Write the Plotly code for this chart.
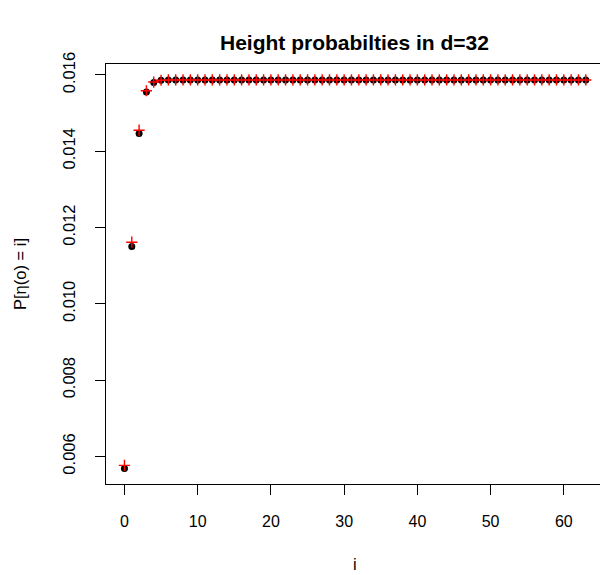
import plotly.graph_objects as go

# ---- data ----
idx = list(range(64))
black_vals = [0.005686, 0.011501, 0.014467, 0.015555, 0.015801, 0.015860,
              0.01587, 0.01587, 0.01587, 0.01587, 0.01587, 0.01587, 0.01587, 0.01587,
              0.01587, 0.01587, 0.01587, 0.01587, 0.01587, 0.01587, 0.01587, 0.01587,
              0.01587, 0.01587, 0.01587, 0.01587, 0.01587, 0.01587, 0.01587, 0.01587,
              0.01587, 0.01587, 0.01587, 0.01587, 0.01587, 0.01587, 0.01587, 0.01587,
              0.01587, 0.01587, 0.01587, 0.01587, 0.01587, 0.01587, 0.01587, 0.01587,
              0.01587, 0.01587, 0.01587, 0.01587, 0.01587, 0.01587, 0.01587, 0.01587,
              0.01587, 0.01587, 0.01587, 0.01587, 0.01587, 0.01587, 0.01587, 0.01587,
              0.01587, 0.01587]
red_vals = [0.005765, 0.011616, 0.014553, 0.015587, 0.015815, 0.015862,
            0.01587, 0.01587, 0.01587, 0.01587, 0.01587, 0.01587, 0.01587, 0.01587,
            0.01587, 0.01587, 0.01587, 0.01587, 0.01587, 0.01587, 0.01587, 0.01587,
            0.01587, 0.01587, 0.01587, 0.01587, 0.01587, 0.01587, 0.01587, 0.01587,
            0.01587, 0.01587, 0.01587, 0.01587, 0.01587, 0.01587, 0.01587, 0.01587,
            0.01587, 0.01587, 0.01587, 0.01587, 0.01587, 0.01587, 0.01587, 0.01587,
            0.01587, 0.01587, 0.01587, 0.01587, 0.01587, 0.01587, 0.01587, 0.01587,
            0.01587, 0.01587, 0.01587, 0.01587, 0.01587, 0.01587, 0.01587, 0.01587,
            0.01587, 0.01587]
x_ticks = [0, 10, 20, 30, 40, 50, 60]
y_ticks = [0.006, 0.008, 0.010, 0.012, 0.014, 0.016]
y_tick_text = ["0.006", "0.008", "0.010", "0.012", "0.014", "0.016"]
title_text = "Height probabilties in d=32"
x_label = "i"
y_label = "P[η(o) = i]"

FONT = "Liberation Sans, Arial, Helvetica, sans-serif"

fig = go.Figure()
fig.add_trace(go.Scatter(
    x=idx, y=black_vals, mode="markers",
    marker=dict(symbol="circle", size=7, color="black", line=dict(width=0)),
    showlegend=False, hoverinfo="skip"))
fig.add_trace(go.Scatter(
    x=idx, y=red_vals, mode="markers",
    marker=dict(symbol="cross-thin", size=8, color="red",
                line=dict(width=1.4, color="red")),
    showlegend=False, hoverinfo="skip"))

fig.update_layout(
    width=600, height=575,
    margin=dict(l=106, r=0, t=64, b=91, pad=0),
    paper_bgcolor="white", plot_bgcolor="white",
    font=dict(family=FONT, size=16, color="black"),
    xaxis=dict(range=[-2.52, 64.94], tickmode="array", tickvals=x_ticks,
               ticks="outside", ticklen=10, tickwidth=1, tickcolor="black",
               showline=True, linecolor="black", linewidth=1, mirror=True,
               showgrid=False, zeroline=False, ticklabelstandoff=13,
               tickfont=dict(size=16)),
    yaxis=dict(range=[0.005278, 0.016288], tickmode="array", tickvals=y_ticks,
               ticktext=y_tick_text, tickangle=-90,
               ticks="outside", ticklen=10, tickwidth=1, tickcolor="black",
               showline=True, linecolor="black", linewidth=1,
               showgrid=False, zeroline=False, ticklabelstandoff=13,
               tickfont=dict(size=16.5)),
    annotations=[
        dict(text="<b>" + title_text + "</b>", xref="paper", yref="paper",
             x=0.504, y=1, yshift=22, xanchor="center", yanchor="middle",
             showarrow=False, font=dict(size=21, family=FONT)),
        dict(text=x_label, xref="paper", yref="paper", x=0.504, y=0,
             yshift=-80, xanchor="center", yanchor="middle", showarrow=False,
             font=dict(size=16.5, family=FONT)),
        dict(text=y_label, xref="paper", yref="paper", x=0, y=0.5,
             xshift=-86, textangle=-90, xanchor="center", yanchor="middle",
             showarrow=False, font=dict(size=16.5, family=FONT)),
    ],
)

fig.write_html("out.html")
